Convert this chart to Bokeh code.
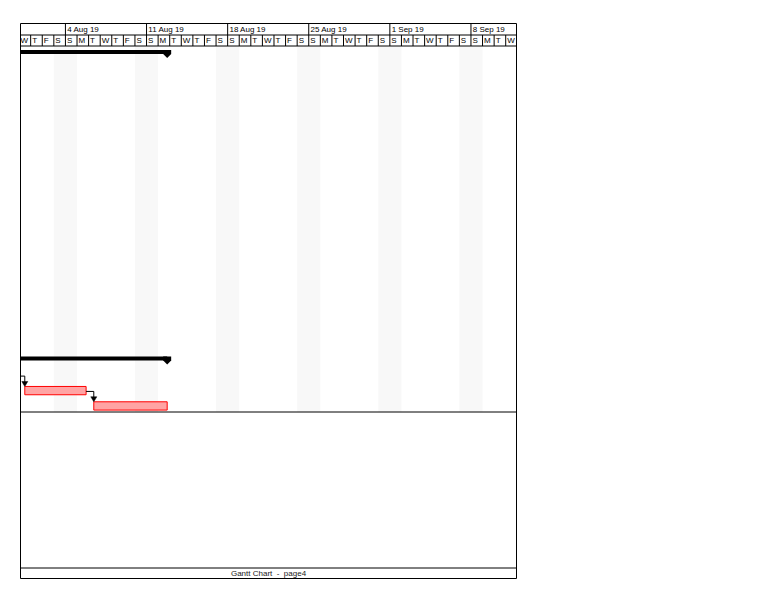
import pandas as pd
from bokeh.plotting import figure
from bokeh.models import Range1d
from bokeh.core.properties import value
from bokeh.embed import file_html
from bokeh.resources import INLINE

# ---------------- data ----------------
view_start = "2019-07-31 02:56"
view_end = "2019-09-11 22:20"

week_labels = ["4 Aug 19", "11 Aug 19", "18 Aug 19", "25 Aug 19", "1 Sep 19", "8 Sep 19"]
week_starts = ["2019-08-04", "2019-08-11", "2019-08-18", "2019-08-25", "2019-09-01", "2019-09-08"]

day_dates = list(pd.date_range("2019-07-31", "2019-09-11", freq="D"))
day_letters = ["MTWTFSS"[d.dayofweek] for d in day_dates]

summary_rows = [0, 20]
summary_starts = ["2019-07-29 08:00", "2019-07-29 08:00"]
summary_ends = ["2019-08-12 18:45", "2019-08-12 18:45"]

task_rows = [22, 23]
task_starts = ["2019-07-31 11:50", "2019-08-06 10:45"]
task_ends = ["2019-08-05 18:50", "2019-08-12 18:45"]

link_from_rows = [21, 22]
link_from_ends = ["2019-07-30 18:00", "2019-08-05 18:50"]
link_to_rows = [22, 23]
link_to_starts = ["2019-07-31 11:50", "2019-08-06 10:45"]

footer_text = "Gantt Chart\u00a0\u00a0-\u00a0\u00a0page4"

# ---------------- layout ----------------
W, H = 773, 598
FL, FR, FT, FB = 20, 516, 23, 578
ROW_TOP_PX = 46.0
ROW_PX = 15.33
FONT = value("Liberation Sans")

origin = pd.Timestamp("2019-07-31")


def dx(t):
    return (pd.Timestamp(t) - origin) / pd.Timedelta(days=1)


def ry(px):
    return (px - ROW_TOP_PX) / ROW_PX


x0, x1 = dx(view_start), dx(view_end)
PX_DAY = (FR - FL) / (x1 - x0)

p = figure(width=W, height=H,
           x_range=Range1d(x0, x1), y_range=Range1d(ry(FB), ry(FT)),
           output_backend="svg", toolbar_location=None,
           x_axis_type=None, y_axis_type=None,
           min_border_left=FL, min_border_right=W - FR,
           min_border_top=FT, min_border_bottom=H - FB)
p.grid.visible = False
p.outline_line_color = "black"
p.outline_line_width = 1
p.background_fill_color = "white"
p.border_fill_color = "white"

# weekend shading (Sat + Sun)
sats = [dx(d) for d in day_dates if d.dayofweek == 5]
p.quad(left=sats, right=[s + 2 for s in sats], top=ry(45.5), bottom=ry(411.5),
       fill_color="#f8f8f8", line_color=None)

# header / body / footer horizontal rules
for ypx in (34.5, 45.5, 411.5, 567.5):
    p.segment(x0=[x0], x1=[x1], y0=[ry(ypx)], y1=[ry(ypx)], line_color="black", line_width=1)

# week lines in the top header row
wx = [dx(w) for w in week_starts]
p.segment(x0=wx, x1=wx, y0=ry(FT), y1=ry(34.5), line_color="black", line_width=1)
# day lines in the second header row
dxs = [dx(d) for d in day_dates] + [dx(day_dates[-1]) + 1]
p.segment(x0=dxs, x1=dxs, y0=ry(34.5), y1=ry(45.5), line_color="black", line_width=1)

# header texts
p.text(x=[w + 1.8 / PX_DAY for w in wx], y=ry(29.3), text=week_labels,
       text_font=FONT, text_font_size=value("8px"), text_color="black",
       text_baseline="middle", text_align="left")
p.text(x=[dx(d) + 1.5 / PX_DAY for d in day_dates], y=ry(40.3), text=day_letters,
       text_font=FONT, text_font_size=value("8px"), text_color="black",
       text_baseline="middle", text_align="left")

# summary bars
s_left = [dx(s) for s in summary_starts]
s_right = [dx(e) for e in summary_ends]
p.quad(left=s_left, right=s_right,
       top=[r + 3.5 / ROW_PX for r in summary_rows],
       bottom=[r + 7.5 / ROW_PX for r in summary_rows],
       fill_color="black", line_color=None)
cap_xs, cap_ys = [], []
for r, e in zip(summary_rows, s_right):
    hw = 4.0 / PX_DAY
    cap_xs.append([e - hw, e + hw, e + hw, e, e - hw])
    cap_ys.append([r + 3.5 / ROW_PX, r + 3.5 / ROW_PX, r + 7.5 / ROW_PX,
                   r + 11.5 / ROW_PX, r + 7.5 / ROW_PX])
p.patches(xs=cap_xs, ys=cap_ys, fill_color="black", line_color=None)

# task bars
BAR_TOP, BAR_BOT = 2.7 / ROW_PX, 11.0 / ROW_PX
p.quad(left=[dx(s) for s in task_starts], right=[dx(e) for e in task_ends],
       top=[r + BAR_TOP for r in task_rows], bottom=[r + BAR_BOT for r in task_rows],
       fill_color="#ffa4a4", line_color="#ff0000", line_width=1)

# dependency links
lx, ly, ax, ay = [], [], [], []
for fr, fe, tr, ts in zip(link_from_rows, link_from_ends, link_to_rows, link_to_starts):
    xa, xb = dx(fe), dx(ts)
    yc = fr + 0.5
    ytip = tr + BAR_TOP
    lx.append([xa, xb, xb])
    ly.append([yc, yc, ytip - 4.0 / ROW_PX])
    hw = 3.0 / PX_DAY
    ax.append([xb - hw, xb + hw, xb])
    ay.append([ytip - 5.0 / ROW_PX, ytip - 5.0 / ROW_PX, ytip])
p.multi_line(xs=lx, ys=ly, line_color="black", line_width=1)
p.patches(xs=ax, ys=ay, fill_color="black", line_color="black", line_width=0.5)

# footer
p.text(x=[(x0 + x1) / 2], y=[ry(573)], text=[footer_text],
       text_font=FONT, text_font_size=value("8px"), text_color="#1a1a1a",
       text_baseline="middle", text_align="center")

open("out.html", "w").write(file_html(p, INLINE))
